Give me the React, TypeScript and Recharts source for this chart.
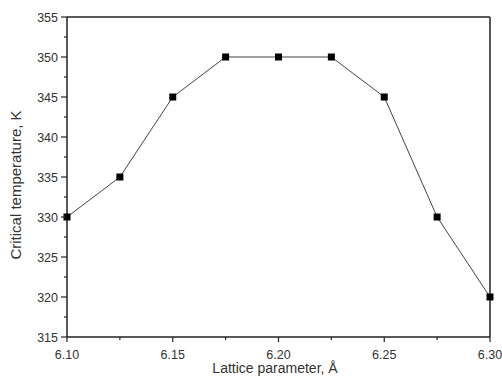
import React from "react";
import { LineChart, Line, XAxis, YAxis, ReferenceLine } from "recharts";

const latticeParam = [6.1, 6.125, 6.15, 6.175, 6.2, 6.225, 6.25, 6.275, 6.3];
const criticalTemp = [330, 335, 345, 350, 350, 350, 345, 330, 320];

const xTicks = [6.1, 6.125, 6.15, 6.175, 6.2, 6.225, 6.25, 6.275, 6.3];
const xMajor = ["6.10", "6.15", "6.20", "6.25", "6.30"];
const yTicks = [315, 317.5, 320, 322.5, 325, 327.5, 330, 332.5, 335, 337.5, 340, 342.5, 345, 347.5, 350, 352.5, 355];

const data = latticeParam.map((x, i) => ({ x, t: criticalTemp[i] }));

const FONT = "'Liberation Sans', Arial, sans-serif";
const INK = "#222";

const XTick = (props: any) => {
  const { x, y, payload } = props;
  const label = payload.value.toFixed(2);
  // minor ticks (6.125 etc.) round to a label too, so check the value itself
  const major = xMajor.includes(label) && Math.round(payload.value * 1000) % 50 === 0;
  return (
    <g>
      <line x1={x} x2={x} y1={y} y2={y + (major ? 5 : 3)} stroke={INK} strokeWidth={1.2} />
      {major && (
        <text x={x} y={y + 21.5} textAnchor="middle" fontSize={12.5} fill="#333" fontFamily={FONT}>
          {label}
        </text>
      )}
    </g>
  );
};

const YTick = (props: any) => {
  const { x, y, payload } = props;
  const major = payload.value % 5 === 0;
  return (
    <g>
      <line x1={x} x2={x - (major ? 6 : 3)} y1={y} y2={y} stroke={INK} strokeWidth={1.2} />
      {major && (
        <text x={x - 9} y={y + 4.5} textAnchor="end" fontSize={12.5} fill="#333" fontFamily={FONT}>
          {payload.value}
        </text>
      )}
    </g>
  );
};

const Square = (props: any) => {
  const { cx, cy } = props;
  return <rect x={cx - 3.5} y={cy - 3.5} width={7} height={7} fill="#000" />;
};

export default function App() {
  return (
    <div style={{ position: "absolute", left: 0, top: 0, width: 502, height: 385, background: "#fff" }}>
      <LineChart width={502} height={385} data={data} margin={{ top: 17, right: 12, bottom: 0, left: 0 }}>
        <XAxis
          dataKey="x"
          type="number"
          domain={[6.1, 6.3]}
          ticks={xTicks}
          tickSize={0}
          tickMargin={0}
          tick={<XTick />}
          height={48}
          axisLine={{ stroke: INK, strokeWidth: 1.5 }}
          interval={0}
        />
        <YAxis
          type="number"
          domain={[315, 355]}
          ticks={yTicks}
          tickSize={0}
          tickMargin={0}
          tick={<YTick />}
          width={67}
          axisLine={{ stroke: INK, strokeWidth: 1.5 }}
          interval={0}
        />
        <ReferenceLine y={355} stroke={INK} strokeWidth={1.5} />
        <ReferenceLine x={6.3} stroke={INK} strokeWidth={1.5} />
        <Line
          dataKey="t"
          stroke="#444"
          strokeWidth={1}
          dot={<Square />}
          isAnimationActive={false}
        />
      </LineChart>
      <div
        style={{
          position: "absolute",
          left: 67,
          width: 416,
          top: 361,
          lineHeight: 1,
          textAlign: "center",
          fontFamily: FONT,
          fontSize: 14,
          color: "#333",
        }}
      >
        Lattice parameter, Å
      </div>
      <div
        style={{
          position: "absolute",
          left: 15,
          top: 185,
          transform: "translate(-50%, -50%) rotate(-90deg)",
          whiteSpace: "nowrap",
          lineHeight: 1,
          fontFamily: FONT,
          fontSize: 15,
          color: "#333",
        }}
      >
        Critical temperature, K
      </div>
    </div>
  );
}
